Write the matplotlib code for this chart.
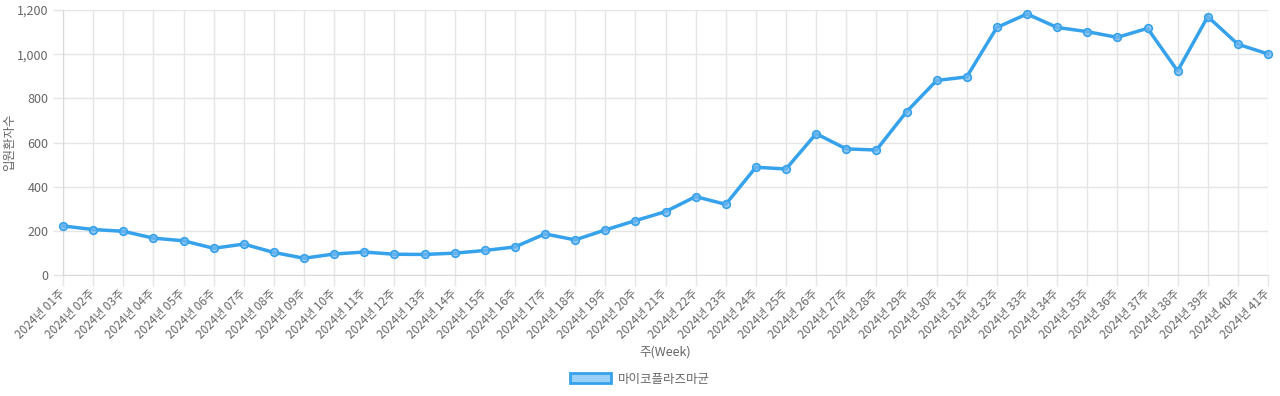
import matplotlib
matplotlib.use("Agg")
import matplotlib.pyplot as plt
from matplotlib.patches import Patch

plt.rcParams['font.family'] = ['Noto Sans CJK KR', 'DejaVu Sans']

weeks = [f"2024년 {i:02d}주" for i in range(1, 42)]
values = [222, 206, 198, 167, 155, 121, 140, 102, 76, 95, 104, 94, 93, 99, 111, 127,
          186, 159, 204, 246, 287, 355, 320, 488, 480, 640, 571, 566, 739, 881, 897,
          1121, 1182, 1121, 1102, 1076, 1117, 924, 1170, 1045, 1001]
series_name = "마이코플라즈마균"
y_ticks = [0, 200, 400, 600, 800, 1000, 1200]

line_color = "#36A2EB"
fill_color = "#9AD0F5"
text_color = "#666666"
grid_color = "#e5e5e5"

fig = plt.figure(figsize=(12.8, 3.96), dpi=100)
ax = fig.add_axes([63/1280, 1 - 275/396, (1268 - 63)/1280, (275 - 10)/396])

x = list(range(len(weeks)))
ax.plot(x, values, color=line_color, linewidth=2.5, marker='o', markersize=5.5,
        markerfacecolor=(0.45, 0.72, 0.94, 0.75), markeredgecolor=line_color,
        markeredgewidth=1.2, zorder=3, clip_on=False)

ax.set_xlim(0, len(weeks) - 1)
ax.set_ylim(0, 1200)
ax.set_yticks(y_ticks)
ax.set_yticklabels([f"{v:,}" for v in y_ticks])
ax.set_xticks(x)
ax.set_xticklabels(weeks, rotation=45, ha='right', va='center',
                   rotation_mode='anchor', fontsize=8.5)

ax.grid(True, color=grid_color, linewidth=1)
ax.set_axisbelow(True)
for s in ['top', 'right']:
    ax.spines[s].set_visible(False)
ax.spines['left'].set_color("#d9d9d9")
ax.spines['bottom'].set_color("#d9d9d9")
ax.tick_params(axis='both', colors=text_color, width=1)
ax.tick_params(axis='y', length=7, color=grid_color, labelsize=9)
ax.tick_params(axis='x', length=8, color=grid_color, pad=4)

fig.text(10/1280, 1 - 142/396, "입원환자수", rotation=90, color=text_color,
         fontsize=9, ha='center', va='center')
fig.text(665/1280, 1 - 352/396, "주(Week)", color=text_color,
         fontsize=9, ha='center', va='center')

handle = Patch(facecolor=fill_color, edgecolor=line_color, linewidth=2)
fig.legend([handle], [series_name], loc='center', bbox_to_anchor=(0.5, 1 - 379/396),
           frameon=False, fontsize=9, labelcolor=text_color, handlelength=3.3,
           handleheight=0.9, handletextpad=0.6)

fig.savefig("out.png", dpi=100)
